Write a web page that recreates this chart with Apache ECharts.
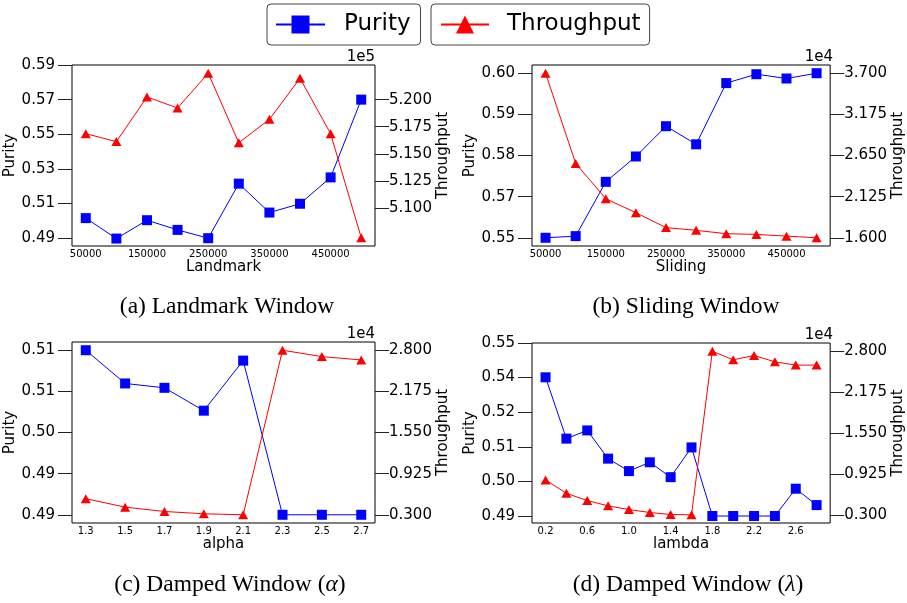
<!DOCTYPE html>
<html>
<head>
<meta charset="utf-8">
<script src="https://cdn.jsdelivr.net/npm/echarts@6/dist/echarts.min.js"></script>
<style>
html,body{margin:0;padding:0;background:#fff;}
#chart{width:907px;height:603px;}
</style>
</head>
<body>
<div id="chart"></div>
<script>
// ---------- data ----------
const windowSizes = [50000, 100000, 150000, 200000, 250000, 300000, 350000, 400000, 450000, 500000];
const landmarkPurity = [0.5016, 0.4898, 0.5004, 0.4948, 0.4900, 0.5215, 0.5048, 0.5099, 0.5251, 0.5700];
const landmarkThroughput = [516860, 516130, 520240, 519230, 522430, 516030, 518180, 521970, 516860, 507270];
const slidingPurity = [0.5500, 0.5505, 0.5670, 0.5747, 0.5839, 0.5784, 0.5970, 0.5997, 0.5984, 0.6000];
const slidingThroughput = [37000, 25490, 20980, 19200, 17300, 16950, 16520, 16430, 16210, 16000];

const alphaValues = [1.3, 1.5, 1.7, 1.9, 2.1, 2.3, 2.5, 2.7];
const alphaPurity = [0.5120, 0.50675, 0.50606, 0.50245, 0.51036, 0.4860, 0.4860, 0.4860];
const alphaThroughput = [5450, 4160, 3500, 3150, 3000, 28000, 27030, 26520];

const lambdaValues = [0.2, 0.4, 0.6, 0.8, 1.0, 1.2, 1.4, 1.6, 1.8, 2.0, 2.2, 2.4, 2.6, 2.8];
const lambdaPurity = [0.5352, 0.5150, 0.5177, 0.5084, 0.5043, 0.5072, 0.5023, 0.5121, 0.4895, 0.4895, 0.4895, 0.4895, 0.4985, 0.4931];
const lambdaThroughput = [8330, 6290, 5180, 4370, 3810, 3350, 3050, 3000, 28000, 26680, 27340, 26380, 25870, 25870];

// ---------- tick values & labels ----------
const windowTicks = [50000, 150000, 250000, 350000, 450000];
const windowTickLabels = ['50000', '150000', '250000', '350000', '450000'];
const alphaTicks = [1.3, 1.5, 1.7, 1.9, 2.1, 2.3, 2.5, 2.7];
const alphaTickLabels = ['1.3', '1.5', '1.7', '1.9', '2.1', '2.3', '2.5', '2.7'];
const lambdaTicks = [0.2, 0.6, 1.0, 1.4, 1.8, 2.2, 2.6];
const lambdaTickLabels = ['0.2', '0.6', '1.0', '1.4', '1.8', '2.2', '2.6'];

const landmarkPurityTicks = [0.49, 0.51, 0.53, 0.55, 0.57, 0.59];
const landmarkPurityLabels = ['0.49', '0.51', '0.53', '0.55', '0.57', '0.59'];
const landmarkThroughputTicks = [510000, 512500, 515000, 517500, 520000];
const landmarkThroughputLabels = ['5.100', '5.125', '5.150', '5.175', '5.200'];

const slidingPurityTicks = [0.55, 0.5625, 0.575, 0.5875, 0.60];
const slidingPurityLabels = ['0.55', '0.57', '0.58', '0.59', '0.60'];
const slidingThroughputTicks = [16000, 21250, 26500, 31750, 37000];
const slidingThroughputLabels = ['1.600', '2.125', '2.650', '3.175', '3.700'];

const alphaPurityTicks = [0.486, 0.4925, 0.499, 0.5055, 0.512];
const alphaPurityLabels = ['0.49', '0.49', '0.50', '0.51', '0.51'];
const dampedThroughputTicks = [3000, 9250, 15500, 21750, 28000];
const dampedThroughputLabels = ['0.300', '0.925', '1.550', '2.175', '2.800'];

const lambdaPurityTicks = [0.4895, 0.5009, 0.5123, 0.5237, 0.5351, 0.5465];
const lambdaPurityLabels = ['0.49', '0.50', '0.51', '0.52', '0.54', '0.55'];

// ---------- helpers ----------
const FONT = 'DejaVu Sans';
function lookup(ticks, labels) {
  return function (v) {
    let best = 0, d = Infinity;
    ticks.forEach((t, i) => { const dd = Math.abs(t - v); if (dd < d) { d = dd; best = i; } });
    return labels[best];
  };
}
function zipXY(xs, ys) { return xs.map((x, i) => [x, ys[i]]); }

const grids = [
  { left: 72, top: 65, width: 303, height: 181 },
  { left: 532, top: 65, width: 301, height: 181 },
  { left: 72, top: 342, width: 303, height: 181 },
  { left: 532, top: 343, width: 301, height: 180 }
];

function xAxis(gi, min, max, ticks, labels, name) {
  return {
    type: 'value', gridIndex: gi, min: min, max: max,
    name: name, nameLocation: 'middle', nameGap: 13,
    nameTextStyle: { fontFamily: FONT, fontSize: 15, color: '#000' },
    axisLine: { show: false }, axisTick: { show: false }, splitLine: { show: false },
    axisLabel: { customValues: ticks, formatter: lookup(ticks, labels), fontFamily: FONT, fontSize: 10, color: '#000', margin: 3 }
  };
}
function yAxis(gi, pos, min, max, ticks, labels, name) {
  return {
    type: 'value', gridIndex: gi, position: pos, min: min, max: max,
    name: name, nameLocation: 'middle', nameGap: pos === 'left' ? 47 : 58,
    nameTextStyle: { fontFamily: FONT, fontSize: 15, color: '#000' },
    axisLine: { show: false }, splitLine: { show: false },
    axisTick: { show: true, customValues: ticks, length: 14, lineStyle: { color: '#222', width: 1 } },
    axisLabel: { customValues: ticks, formatter: lookup(ticks, labels), fontFamily: FONT, fontSize: 15, color: '#000', margin: pos === 'left' ? 17 : 14 }
  };
}

const xAxes = [
  xAxis(0, 27500, 522500, windowTicks, windowTickLabels, 'Landmark'),
  xAxis(1, 27500, 522500, windowTicks, windowTickLabels, 'Sliding'),
  xAxis(2, 1.23, 2.77, alphaTicks, alphaTickLabels, 'alpha'),
  xAxis(3, 0.07, 2.93, lambdaTicks, lambdaTickLabels, 'lambda')
];
const yAxes = [
  yAxis(0, 'left', 0.4855, 0.59, landmarkPurityTicks, landmarkPurityLabels, 'Purity'),
  yAxis(0, 'right', 506510, 523190, landmarkThroughputTicks, landmarkThroughputLabels, 'Throughput'),
  yAxis(1, 'left', 0.5475, 0.6025, slidingPurityTicks, slidingPurityLabels, 'Purity'),
  yAxis(1, 'right', 14950, 38050, slidingThroughputTicks, slidingThroughputLabels, 'Throughput'),
  yAxis(2, 'left', 0.4847, 0.5133, alphaPurityTicks, alphaPurityLabels, 'Purity'),
  yAxis(2, 'right', 1750, 29250, dampedThroughputTicks, dampedThroughputLabels, 'Throughput'),
  yAxis(3, 'left', 0.4872, 0.5465, lambdaPurityTicks, lambdaPurityLabels, 'Purity'),
  yAxis(3, 'right', 1750, 29250, dampedThroughputTicks, dampedThroughputLabels, 'Throughput')
];

function purity(gi, xs, ys) {
  return {
    name: 'Purity', type: 'line', xAxisIndex: gi, yAxisIndex: gi * 2, data: zipXY(xs, ys),
    symbol: 'rect', symbolSize: 10, color: '#0000ff',
    lineStyle: { color: '#0000ff', width: 1 }, itemStyle: { color: '#0000ff' }, z: 2
  };
}
function throughput(gi, xs, ys) {
  return {
    name: 'Throughput', type: 'line', xAxisIndex: gi, yAxisIndex: gi * 2 + 1, data: zipXY(xs, ys),
    symbol: 'triangle', symbolSize: [10, 9], color: '#ff0000',
    lineStyle: { color: '#ff0000', width: 1 }, itemStyle: { color: '#ff0000' }, z: 3
  };
}

const series = [
  purity(0, windowSizes, landmarkPurity), throughput(0, windowSizes, landmarkThroughput),
  purity(1, windowSizes, slidingPurity), throughput(1, windowSizes, slidingThroughput),
  purity(2, alphaValues, alphaPurity), throughput(2, alphaValues, alphaThroughput),
  purity(3, lambdaValues, lambdaPurity), throughput(3, lambdaValues, lambdaThroughput)
];

const CAP_FONT = 'Liberation Serif';
const CAP_SIZE = 23.5;
function caption(x, y, text) {
  return {
    type: 'text', x: x, y: y,
    style: {
      text: text, fill: '#000', font: CAP_SIZE + 'px "' + CAP_FONT + '"', align: 'center', verticalAlign: 'middle',
      rich: { i: { fontStyle: 'italic', fontSize: CAP_SIZE, fontFamily: CAP_FONT } }
    }
  };
}
function expo(x, y, text) {
  return {
    type: 'text', x: x, y: y,
    style: { text: text, fill: '#000', font: '15px "' + FONT + '"', align: 'right', verticalAlign: 'bottom' }
  };
}

const legendBase = {
  orient: 'horizontal', top: 4, itemHeight: 22.5, borderColor: '#444', borderWidth: 1, borderRadius: 4,
  textStyle: { fontFamily: FONT, fontSize: 23, color: '#000' }, selectedMode: false
};

const option = {
  animation: false,
  backgroundColor: '#fff',
  legend: [
    Object.assign({}, legendBase, { data: ['Purity'], left: 267, itemWidth: 49, padding: [9, 10, 9, 8],
      textStyle: { fontFamily: FONT, fontSize: 23, color: '#000', padding: [0, 0, 0, 14] } }),
    Object.assign({}, legendBase, { data: ['Throughput'], left: 431, itemWidth: 48, padding: [9, 9, 9, 9],
      textStyle: { fontFamily: FONT, fontSize: 23, color: '#000', padding: [0, 0, 0, 13] } })
  ],
  grid: grids.map(g => Object.assign({ show: true, borderColor: '#000', borderWidth: 1, backgroundColor: 'transparent', containLabel: false }, g)),
  xAxis: xAxes,
  yAxis: yAxes,
  series: series,
  graphic: [
    caption(227, 307, '(a) Landmark Window'),
    caption(686, 307, '(b) Sliding Window'),
    caption(230, 585, '(c) Damped Window ({i|α})'),
    caption(688, 585, '(d) Damped Window ({i|λ})'),
    expo(375, 65, '1e5'),
    expo(833, 65, '1e4'),
    expo(375, 342, '1e4'),
    expo(833, 343, '1e4')
  ]
};

const chart = echarts.init(document.getElementById('chart'), null, { renderer: 'canvas' });
chart.setOption(option);
</script>
</body>
</html>
